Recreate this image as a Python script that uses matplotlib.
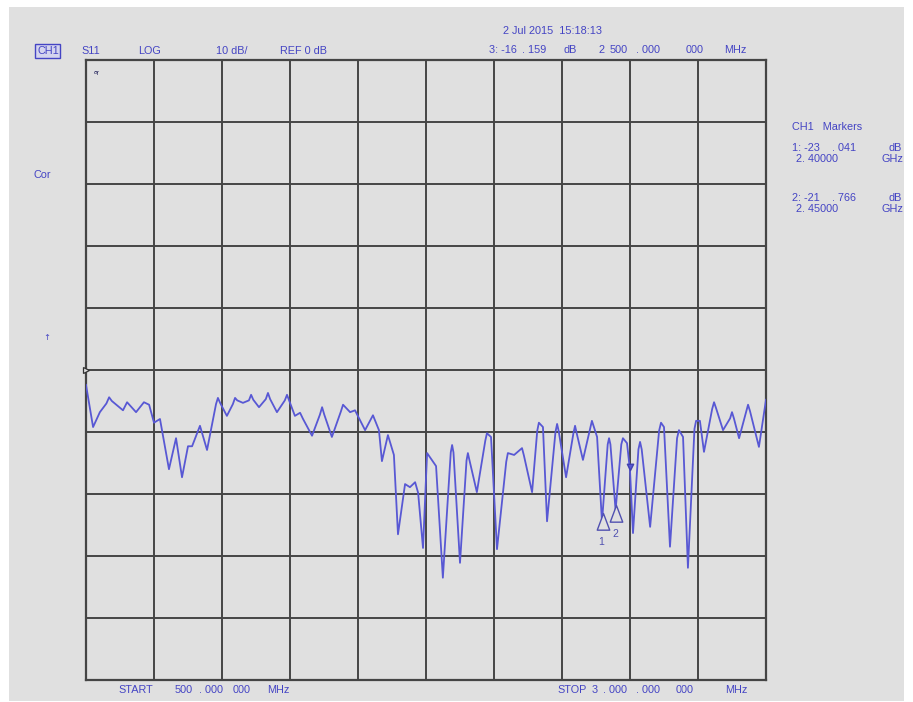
import matplotlib
matplotlib.use("Agg")
import matplotlib.pyplot as plt
from matplotlib.patches import Rectangle
from matplotlib.path import Path
from matplotlib.markers import MarkerStyle

# ---------------- data ----------------
freq_mhz = [500, 526, 551, 575, 585, 595, 636, 651, 684, 713, 732, 750, 772, 805, 831, 853,
            875, 890, 919, 945, 978, 985, 993, 1018, 1040, 1048, 1056, 1077, 1099, 1107, 1115,
            1136, 1161, 1169, 1177, 1202, 1231, 1239, 1250, 1268, 1287, 1298, 1331, 1360, 1368,
            1376, 1404, 1437, 1445, 1471, 1489, 1526, 1555, 1577, 1588, 1610, 1632, 1647, 1673,
            1691, 1710, 1721, 1739, 1754, 1787, 1812, 1841, 1846, 1851, 1875, 1899, 1904, 1909,
            1937, 1968, 1974, 1989, 2011, 2045, 2051, 2074, 2103, 2110, 2140, 2159, 2165, 2180,
            2195, 2226, 2232, 2238, 2265, 2292, 2298, 2304, 2327, 2354, 2360, 2379, 2397, 2418,
            2423, 2428, 2447, 2468, 2474, 2489, 2500, 2511, 2531, 2537, 2543, 2574, 2607, 2614,
            2625, 2647, 2673, 2680, 2695, 2713, 2737, 2743, 2757, 2772, 2802, 2809, 2816, 2842,
            2868, 2875, 2882, 2901, 2927, 2934, 2941, 2974, 3000]
s11_db = [-2.4, -9.2, -6.8, -5.4, -4.4, -5.0, -6.5, -5.2, -6.8, -5.2, -5.6, -8.5, -7.9, -16.0,
          -11.0, -17.3, -12.3, -12.3, -9.0, -12.9, -5.5, -4.5, -5.3, -7.4, -5.5, -4.5, -4.9, -5.3,
          -4.9, -4.0, -4.8, -6.0, -4.7, -3.7, -4.7, -6.8, -4.9, -4.0, -5.3, -7.4, -6.9, -7.9,
          -10.6, -7.2, -6.0, -7.2, -10.8, -6.7, -5.6, -6.8, -6.5, -9.7, -7.3, -9.7, -14.7, -10.5,
          -13.7, -26.5, -18.4, -18.9, -18.1, -19.8, -28.7, -13.4, -15.5, -33.5, -13.3, -12.1,
          -13.3, -31.1, -14.6, -13.4, -14.4, -19.7, -11.4, -10.2, -10.8, -28.9, -14.8, -13.4,
          -13.7, -12.6, -13.8, -19.7, -9.8, -8.5, -9.2, -24.4, -10.0, -8.7, -9.9, -17.3, -10.2,
          -9.0, -10.2, -14.5, -9.4, -8.2, -10.8, -24.5, -12.0, -11.0, -12.0, -22.6, -12.0, -11.0,
          -11.8, -16.2, -26.3, -12.8, -11.6, -12.8, -25.3, -9.8, -8.5, -9.2, -28.5, -11.0, -9.7,
          -10.8, -31.9, -9.5, -8.2, -8.2, -13.2, -6.3, -5.2, -6.1, -9.7, -7.8, -6.8, -7.8, -11.0,
          -6.7, -5.6, -6.6, -12.4, -4.8]

marker_freq = [2400, 2450]
marker_db = [-23.041, -21.766]
marker_labels = ["1", "2"]
active_freq = [2500]
active_db = [-16.159]

start_mhz = 500
stop_mhz = 3000
ref_db = 0
scale_db = 10

BG = "#e0e0e0"
TXT = "#4444c4"
TRACE = "#5858d4"
GRID = "#454545"

plt.rcParams["font.family"] = ["Liberation Sans", "DejaVu Sans"]

fig = plt.figure(figsize=(9.13, 7.02), dpi=100)
fig.patch.set_facecolor("white")
fig.patches.append(Rectangle((9 / 913, 1 / 702), (904 - 9) / 913, (695 - 1) / 702,
                             transform=fig.transFigure, facecolor=BG, edgecolor="none", zorder=-10))

W, H = 913, 702
L, R, T, B = 86, 766, 60, 680
ax = fig.add_axes([L / W, 1 - B / H, (R - L) / W, (B - T) / H])
ax.set_facecolor(BG)
ax.set_xlim(start_mhz, stop_mhz)
ax.set_ylim(ref_db - 5 * scale_db, ref_db + 5 * scale_db)
step = (stop_mhz - start_mhz) / 10
ax.set_xticks([start_mhz + i * step for i in range(11)])
ax.set_yticks([ref_db - 5 * scale_db + i * scale_db for i in range(11)])
ax.tick_params(length=0, labelbottom=False, labelleft=False)
ax.grid(True, color=GRID, lw=1.4)
for s in ax.spines.values():
    s.set_color(GRID)
    s.set_linewidth(1.6)

ax.plot(freq_mhz, s11_db, color=TRACE, lw=1.3, solid_joinstyle="round", zorder=3)

# marker triangles (apex at trace point, body below)
tri_up = MarkerStyle(Path([(0, 0), (-0.45, -1.2), (0.45, -1.2), (0, 0)],
                          [Path.MOVETO, Path.LINETO, Path.LINETO, Path.CLOSEPOLY]))
ax.plot(marker_freq, marker_db, linestyle="none", marker=tri_up, markersize=24,
        markerfacecolor=BG, markeredgecolor="#5050b0", markeredgewidth=1.0, zorder=4)
for f, d, lab in zip(marker_freq, marker_db, marker_labels):
    ax.annotate(lab, (f, d), xytext=(-1, -21), textcoords="offset points",
                ha="center", va="center", fontsize=7.5, color="#5050b0")
tri_dn = MarkerStyle(Path([(0, 0), (-0.5, 1.0), (0.5, 1.0), (0, 0)],
                          [Path.MOVETO, Path.LINETO, Path.LINETO, Path.CLOSEPOLY]))
ax.plot(active_freq, active_db, linestyle="none", marker=tri_dn, markersize=9,
        markerfacecolor=TRACE, markeredgecolor="#4040b0", zorder=4)

# reference position indicator
ax.plot([0], [0.5], transform=ax.transAxes, marker=">", markersize=5, clip_on=False,
        markerfacecolor=BG, markeredgecolor="#333333", markeredgewidth=0.9, zorder=5)
ax.text(0.012, 0.985, "ᵃʳ", transform=ax.transAxes, fontsize=7.5, color="#333366",
        ha="left", va="top")

FS = 7.8


def ftext(x, y, s, size=FS, **kw):
    fig.text(x / W, 1 - y / H, s, fontsize=size, color=TXT, va="center", **kw)


# header
ftext(37, 51, "CH1", bbox=dict(boxstyle="square,pad=0.15", fc="#d4d4ee", ec=TXT, lw=1.0))
ftext(81, 51, "S11")
ftext(138, 51, "LOG")
ftext(216, 51, "10 dB/")
ftext(280, 51, "REF 0 dB")
ftext(503, 31, "2 Jul 2015  15:18:13")
for x, s in [(489, "3: -16"), (522, ". 159"), (563, "dB"), (598, "2"), (610, "500"),
             (636, ". 000"), (686, "000"), (724, "MHz")]:
    ftext(x, 50, s)

ftext(33, 175, "Cor")
ftext(43, 337, "↑", size=6, family=["DejaVu Sans"])

# marker table
ftext(792, 127, "CH1   Markers")
for y, parts in [(148, [(792, "1: -23"), (832, ". 041"), (888, "dB")]),
                 (159, [(796, "2. 40000"), (881, "GHz")]),
                 (198, [(792, "2: -21"), (832, ". 766"), (888, "dB")]),
                 (209, [(796, "2. 45000"), (881, "GHz")])]:
    for x, s in parts:
        ftext(x, y, s)

# footer
for x, s in [(118, "START"), (175, "500"), (199, ". 000"), (233, "000"), (267, "MHz")]:
    ftext(x, 690, s)
for x, s in [(557, "STOP"), (592, "3"), (603, ". 000"), (636, ". 000"), (676, "000"), (725, "MHz")]:
    ftext(x, 690, s)

fig.savefig("out.png", dpi=100, facecolor="white")
